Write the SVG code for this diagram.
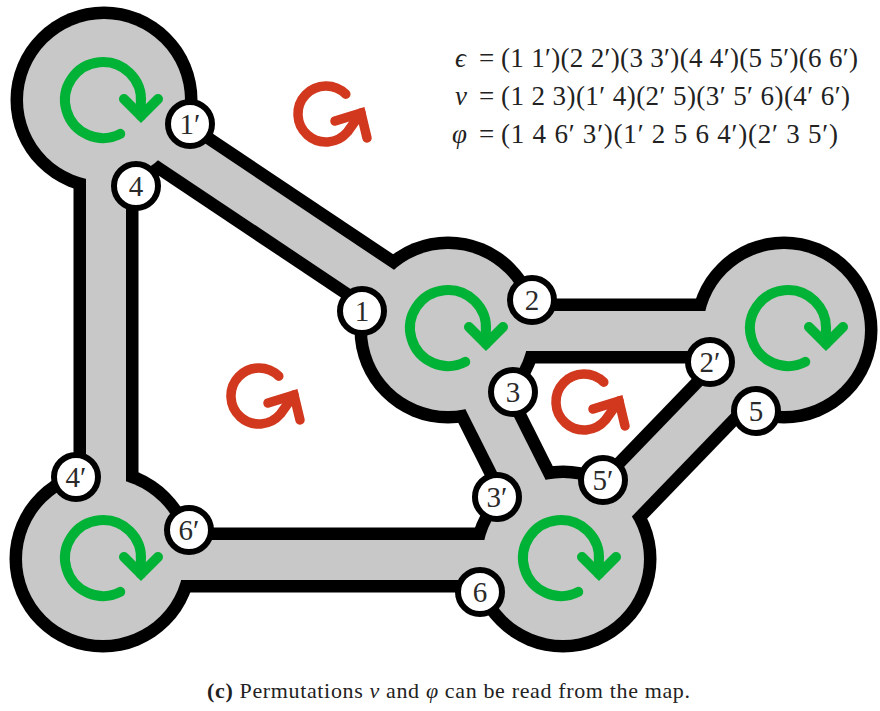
<svg xmlns="http://www.w3.org/2000/svg" xmlns:xlink="http://www.w3.org/1999/xlink" width="880" height="711" viewBox="0 0 880 711">
<style>
.bo{stroke:#000;stroke-width:65;stroke-linecap:butt;fill:none}
.bg{stroke:#c8c8c8;stroke-width:40;stroke-linecap:butt;fill:none}
.do{fill:#000}
.dg{fill:#c8c8c8}
.lab circle{fill:#fff;stroke:#000;stroke-width:6}
.lab text{font-family:"Liberation Serif","DejaVu Serif",serif;font-size:29px;fill:#2a2a2a;text-anchor:middle}
.eq{font-family:"Liberation Serif","DejaVu Serif",serif;font-size:27px;fill:#222}
.cap{font-family:"Liberation Serif","DejaVu Serif",serif;font-size:22px;fill:#222}
</style>
<defs>
<g id="cw" fill="none" stroke="#00b336" stroke-width="10" stroke-linecap="round" stroke-linejoin="miter">
<path d="M 17.25 33.86 A 38 38 0 1 1 37.86 3.31 L 38 16"/>
<path d="M 21 -1 L 38 16 L 55 -1"/>
</g>
<g id="ccw" fill="none" stroke="#d1381e" stroke-width="9.5" stroke-linecap="round" stroke-linejoin="miter">
<path d="M 19.8 -19.8 A 28 28 0 1 0 21.4 18 L 35 -1"/>
<path d="M 9 7 L 35 -1 L 41 24"/>
</g>
</defs>
<rect width="880" height="711" fill="#fff"/>

<g id="outline">
<line class="bo" x1="106" y1="100" x2="106" y2="559"/>
<line class="bo" x1="104" y1="100" x2="448" y2="330"/>
<line class="bo" x1="448" y1="331" x2="784" y2="331"/>
<line class="bo" x1="103" y1="560" x2="563" y2="560"/>
<line class="bo" x1="448" y1="330" x2="563" y2="559"/>
<line class="bo" x1="784" y1="330" x2="563" y2="559"/>
<circle class="do" cx="104" cy="100" r="93.5"/>
<circle class="do" cx="448" cy="330" r="93.5"/>
<circle class="do" cx="784" cy="330" r="93.5"/>
<circle class="do" cx="103" cy="559" r="93.5"/>
<circle class="do" cx="563" cy="559" r="93.5"/>
</g>

<g id="connectors">
<line id="e-4" class="bg" x1="106" y1="100" x2="106" y2="559"/>
<line id="e-1" class="bg" x1="104" y1="100" x2="448" y2="330"/>
<line id="e-2" class="bg" x1="448" y1="331" x2="784" y2="331"/>
<line id="e-6" class="bg" x1="103" y1="560" x2="563" y2="560"/>
<line id="e-3" class="bg" x1="448" y1="330" x2="563" y2="559"/>
<line id="e-5" class="bg" x1="784" y1="330" x2="563" y2="559"/>
</g>

<g id="vA"><circle class="dg" cx="104" cy="100" r="81"/><use xlink:href="#cw" href="#cw" transform="translate(103,100)"/></g>
<g id="vB"><circle class="dg" cx="448" cy="330" r="81"/><use xlink:href="#cw" href="#cw" transform="translate(448,328)"/></g>
<g id="vC"><circle class="dg" cx="784" cy="330" r="81"/><use xlink:href="#cw" href="#cw" transform="translate(788,328)"/></g>
<g id="vD"><circle class="dg" cx="103" cy="559" r="81"/><use xlink:href="#cw" href="#cw" transform="translate(103,558)"/></g>
<g id="vE"><circle class="dg" cx="563" cy="559" r="81"/><use xlink:href="#cw" href="#cw" transform="translate(561,558)"/></g>

<g id="faces">
<use xlink:href="#ccw" href="#ccw" transform="translate(326,114)"/>
<use xlink:href="#ccw" href="#ccw" transform="translate(259,396)"/>
<use xlink:href="#ccw" href="#ccw" transform="translate(584,402)"/>
</g>

<g id="labels">
<g id="l1p" class="lab"><circle cx="190" cy="124" r="22"/><text x="190" y="134">1′</text></g>
<g id="l4" class="lab"><circle cx="136" cy="186" r="22"/><text x="136" y="196">4</text></g>
<g id="l1" class="lab"><circle cx="362" cy="311" r="22"/><text x="362" y="321">1</text></g>
<g id="l2" class="lab"><circle cx="532" cy="300" r="22"/><text x="532" y="310">2</text></g>
<g id="l3" class="lab"><circle cx="513" cy="392" r="22"/><text x="513" y="402">3</text></g>
<g id="l2p" class="lab"><circle cx="710" cy="362" r="22"/><text x="710" y="372">2′</text></g>
<g id="l5" class="lab"><circle cx="756" cy="411" r="22"/><text x="756" y="421">5</text></g>
<g id="l4p" class="lab"><circle cx="76" cy="477" r="22"/><text x="76" y="487">4′</text></g>
<g id="l6p" class="lab"><circle cx="189" cy="530" r="22"/><text x="189" y="540">6′</text></g>
<g id="l3p" class="lab"><circle cx="497" cy="497" r="22"/><text x="497" y="507">3′</text></g>
<g id="l5p" class="lab"><circle cx="603" cy="480" r="22"/><text x="603" y="490">5′</text></g>
<g id="l6" class="lab"><circle cx="480" cy="592" r="22"/><text x="480" y="602">6</text></g>
</g>

<g id="equations">
<text class="eq" x="455" y="67" font-style="italic">ϵ</text>
<text class="eq" x="479" y="67">=</text>
<text class="eq" x="501" y="67" textLength="357" lengthAdjust="spacing">(1 1′)(2 2′)(3 3′)(4 4′)(5 5′)(6 6′)</text>
<text class="eq" x="455" y="105" font-style="italic">ν</text>
<text class="eq" x="479" y="105">=</text>
<text class="eq" x="501" y="105" textLength="349" lengthAdjust="spacing">(1 2 3)(1′ 4)(2′ 5)(3′ 5′ 6)(4′ 6′)</text>
<text class="eq" x="452" y="143" font-style="italic">φ</text>
<text class="eq" x="479" y="143">=</text>
<text class="eq" x="501" y="143" textLength="337" lengthAdjust="spacing">(1 4 6′ 3′)(1′ 2 5 6 4′)(2′ 3 5′)</text>
</g>

<text class="cap" x="207" y="698" textLength="483" lengthAdjust="spacing"><tspan font-weight="bold">(c)</tspan> Permutations <tspan font-style="italic">ν</tspan> and <tspan font-style="italic">φ</tspan> can be read from the map.</text>
</svg>
